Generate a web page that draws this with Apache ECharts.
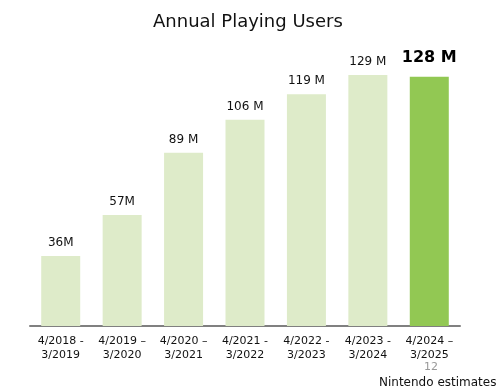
<!DOCTYPE html>
<html><head><meta charset="utf-8">
<script src="https://cdn.jsdelivr.net/npm/echarts@6/dist/echarts.min.js"></script>
<style>html,body{margin:0;padding:0;background:#fff}#c{width:504px;height:392px}</style>
</head><body><div id="c"></div>
<script>
const categories = ['4/2018 -\n3/2019','4/2019 –\n3/2020','4/2020 –\n3/2021','4/2021 -\n3/2022','4/2022 -\n3/2023','4/2023 -\n3/2024','4/2024 –\n3/2025'];
const values = [36, 57, 89, 106, 119, 129, 128];
const valueLabels = ['36M','57M','89 M','106 M','119 M','129 M','128 M'];
const font = 'DejaVu Sans, Verdana, sans-serif';
const chart = echarts.init(document.getElementById('c'));
chart.setOption({
  animation: false,
  title: {text: 'Annual Playing Users', left: 148, top: 8,
    textStyle: {fontFamily: font, fontSize: 18, fontWeight: 'normal', color: '#111'}},
  grid: {left: 30, right: 44, top: 34, bottom: 66},
  xAxis: {type: 'category', data: categories,
    axisLine: {lineStyle: {color: '#808080', width: 2}}, axisTick: {show: false},
    axisLabel: {fontFamily: font, fontSize: 11, color: '#111', lineHeight: 14, margin: 8, interval: 0}},
  yAxis: {type: 'value', min: 0, max: 150, show: false, splitLine: {show: false}},
  series: [{type: 'bar', barWidth: 39,
    data: values.map((v, i) => ({value: v,
      itemStyle: {color: i === values.length - 1 ? '#92c853' : '#deebc9'},
      label: i === values.length - 1 ? {fontSize: 16, fontWeight: 'bold', color: '#000', distance: 11} : {}})),
    label: {show: true, position: 'top', distance: 7, fontFamily: font, fontSize: 12, color: '#111',
      formatter: p => valueLabels[p.dataIndex]}}],
  graphic: [
    {type: 'text', left: 424, top: 362, style: {text: '12', fontFamily: font, fontSize: 11, fill: '#999'}},
    {type: 'text', left: 379, top: 377, style: {text: 'Nintendo estimates', fontFamily: font, fontSize: 12, fill: '#111'}}
  ]
});
</script></body></html>
